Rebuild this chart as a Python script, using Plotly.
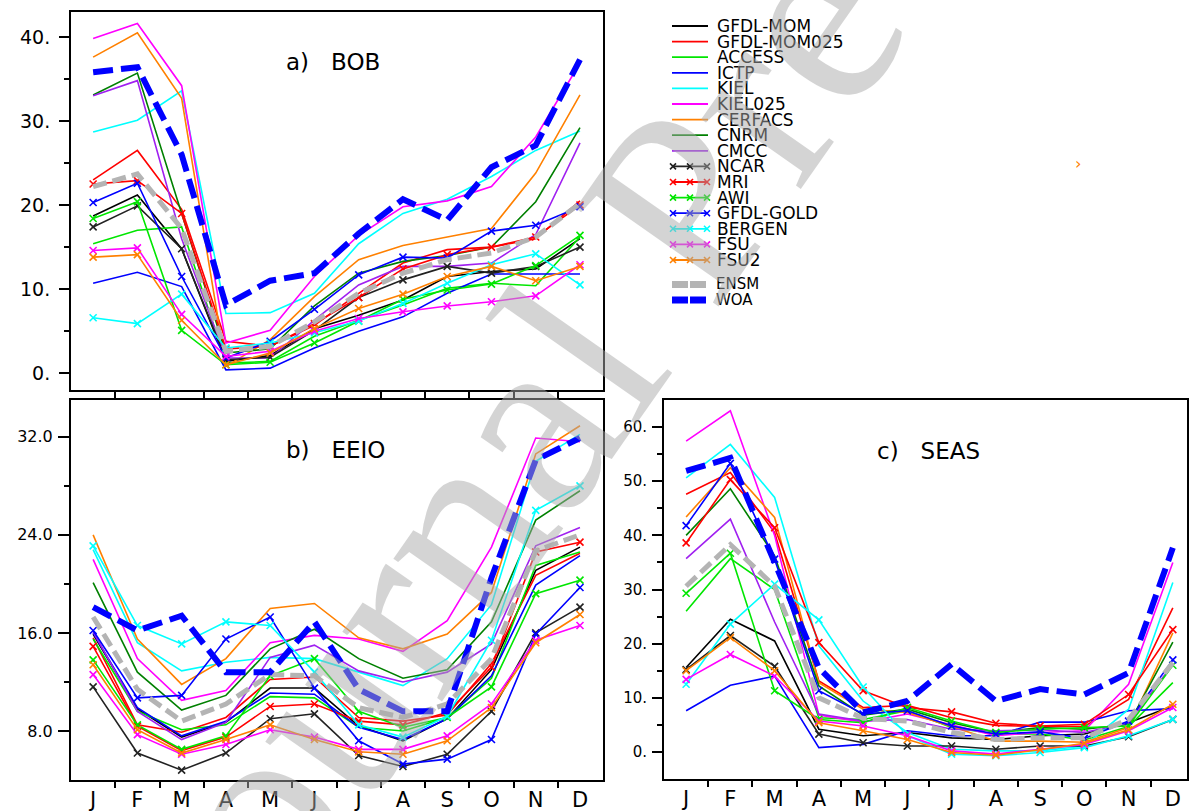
import plotly.graph_objects as go

W, H = 1196, 811

months = ["J", "F", "M", "A", "M", "J", "J", "A", "S", "O", "N", "D"]

model_names = ["GFDL-MOM", "GFDL-MOM025", "ACCESS", "ICTP", "KIEL", "KIEL025", "CERFACS",
               "CNRM", "CMCC", "NCAR", "MRI", "AWI", "GFDL-GOLD", "BERGEN", "FSU", "FSU2"]

# ---------------- a) BOB ----------------
bob_gfdl_mom = [18.7, 21.2, 14.8, 1.4, 2.1, 5.3, 6.9, 8.7, 11.5, 12.1, 12.4, 16.0]
bob_gfdl_mom025 = [23.0, 26.5, 19.5, 3.8, 3.2, 5.7, 9.5, 13.1, 14.7, 15.0, 16.0, 20.5]
bob_access = [15.4, 17.0, 17.4, 1.2, 1.4, 4.4, 6.3, 8.1, 10.1, 10.7, 10.4, 16.2]
bob_ictp = [10.7, 12.0, 10.3, 0.4, 0.6, 3.0, 5.0, 6.7, 9.5, 11.8, 11.8, 11.8]
bob_kiel = [28.7, 30.1, 33.6, 7.1, 7.2, 9.5, 15.4, 19.0, 20.7, 23.4, 26.5, 28.8]
bob_kiel025 = [39.8, 41.6, 34.2, 3.6, 5.1, 11.5, 16.4, 19.8, 20.5, 22.2, 28.1, 36.9]
bob_cerfacs = [37.6, 40.5, 32.7, 0.8, 4.0, 9.1, 13.5, 15.2, 16.2, 17.2, 23.8, 33.1]
bob_cnrm = [33.1, 35.7, 19.0, 2.4, 2.9, 8.0, 11.9, 13.3, 14.0, 15.0, 20.4, 29.2]
bob_cmcc = [33.0, 34.8, 16.0, 1.8, 1.8, 6.3, 10.5, 12.7, 12.7, 13.1, 16.5, 27.4]
bob_ncar = [17.4, 19.9, 14.8, 1.6, 1.9, 5.1, 9.0, 11.1, 12.7, 11.9, 12.7, 15.0]
bob_mri = [22.5, 22.9, 19.0, 2.9, 3.2, 5.9, 9.0, 12.4, 14.1, 15.0, 16.2, 20.0]
bob_awi = [18.4, 20.4, 5.1, 1.0, 1.3, 3.6, 6.2, 8.8, 9.9, 10.6, 12.8, 16.4]
bob_gfdl_gold = [20.3, 22.6, 11.5, 1.8, 3.8, 7.6, 11.7, 13.8, 13.7, 16.9, 17.6, 19.8]
bob_bergen = [6.6, 5.9, 9.4, 3.0, 3.6, 4.8, 6.2, 8.3, 10.7, 12.9, 14.2, 10.5]
bob_fsu = [14.6, 14.9, 7.0, 2.0, 2.6, 5.0, 6.5, 7.3, 8.0, 8.5, 9.2, 12.9]
bob_fsu2 = [13.8, 14.1, 6.3, 1.0, 2.4, 5.3, 7.7, 9.4, 11.5, 12.7, 11.0, 12.7]
bob_ensm = [22.2, 23.7, 17.2, 2.6, 3.2, 6.1, 9.5, 11.9, 13.5, 14.3, 16.2, 20.2]
bob_woa = [35.8, 36.4, 26.0, 8.1, 11.0, 11.9, 16.6, 20.7, 18.2, 24.5, 27.1, 37.3]

# ---------------- b) EEIO ----------------
eeio_gfdl_mom = [15.9, 9.8, 7.5, 8.7, 11.5, 11.5, 8.4, 7.2, 9.0, 13.0, 21.1, 23.0]
eeio_gfdl_mom025 = [15.6, 8.5, 7.9, 9.1, 12.2, 12.4, 9.1, 8.8, 9.3, 13.5, 20.7, 22.5]
eeio_access = [15.5, 9.6, 8.1, 8.5, 10.8, 10.7, 8.3, 8.0, 9.1, 12.3, 21.5, 22.6]
eeio_ictp = [16.0, 9.9, 7.6, 8.8, 11.1, 11.0, 8.3, 7.3, 9.0, 12.5, 19.9, 22.3]
eeio_kiel = [22.8, 15.2, 12.9, 13.6, 14.0, 13.9, 12.8, 11.7, 13.9, 18.3, 30.0, 32.2]
eeio_kiel025 = [22.0, 13.9, 10.5, 11.3, 15.2, 15.8, 15.5, 14.5, 17.0, 23.0, 31.9, 31.6]
eeio_cerfacs = [24.0, 15.5, 11.8, 13.9, 18.0, 18.4, 15.6, 14.7, 15.9, 19.3, 30.6, 32.9]
eeio_cnrm = [20.1, 12.8, 9.7, 10.9, 14.7, 16.3, 13.9, 12.3, 13.0, 16.9, 25.2, 27.6]
eeio_cmcc = [16.1, 9.6, 7.3, 8.7, 14.0, 15.0, 12.9, 12.0, 12.8, 15.1, 23.1, 24.6]
eeio_ncar = [11.6, 6.2, 4.8, 6.2, 9.0, 9.4, 6.0, 5.1, 6.1, 9.6, 16.0, 18.1]
eeio_mri = [14.9, 8.4, 6.4, 7.5, 10.0, 10.2, 8.8, 8.5, 9.5, 13.2, 22.6, 23.4]
eeio_awi = [13.8, 8.5, 6.5, 7.6, 12.5, 13.9, 9.6, 8.3, 9.1, 11.6, 19.2, 20.3]
eeio_gfdl_gold = [16.2, 10.7, 10.9, 15.5, 17.3, 11.5, 7.2, 5.3, 5.7, 7.3, 15.9, 19.7]
eeio_bergen = [23.1, 16.6, 15.1, 16.9, 16.6, 12.8, 8.5, 7.5, 9.2, 15.4, 26.0, 28.0]
eeio_fsu = [12.6, 7.7, 6.1, 6.9, 8.1, 7.5, 6.5, 6.5, 7.6, 10.2, 15.4, 16.6]
eeio_fsu2 = [13.4, 8.1, 6.2, 7.3, 8.5, 7.3, 6.3, 6.1, 7.2, 9.9, 15.2, 17.5]
eeio_ensm = [17.3, 11.4, 8.8, 10.2, 12.6, 12.5, 9.9, 9.1, 10.2, 13.9, 22.7, 24.0]
eeio_woa = [18.1, 16.2, 17.4, 12.8, 12.8, 16.9, 11.4, 9.6, 9.6, 20.5, 30.1, 31.9]

# ---------------- c) SEAS ----------------
seas_gfdl_mom = [15.6, 24.5, 20.5, 4.2, 3.0, 3.6, 2.6, 2.3, 3.0, 3.3, 5.4, 8.5]
seas_gfdl_mom025 = [47.6, 51.6, 40.5, 13.1, 8.2, 8.6, 6.3, 4.9, 4.7, 4.7, 9.7, 26.6]
seas_access = [26.0, 35.7, 30.0, 6.3, 6.0, 7.6, 4.5, 3.3, 3.3, 2.2, 4.7, 12.8]
seas_ictp = [7.6, 12.3, 14.0, 0.8, 1.4, 3.9, 3.0, 3.0, 5.5, 5.5, 7.6, 8.0]
seas_kiel = [50.6, 56.8, 47.0, 19.6, 9.4, 3.6, 0.5, 0.2, 0.2, 1.1, 7.9, 31.3]
seas_kiel025 = [57.4, 63.0, 40.0, 6.8, 5.5, 7.0, 5.0, 3.0, 3.6, 3.9, 12.5, 35.0]
seas_cerfacs = [43.4, 52.5, 43.3, 12.8, 7.9, 7.3, 4.7, 2.0, 2.0, 1.8, 4.5, 22.0]
seas_cnrm = [40.0, 48.6, 36.2, 12.2, 6.8, 7.9, 5.4, 3.6, 4.5, 4.2, 5.1, 20.3]
seas_cmcc = [35.7, 43.0, 24.0, 7.0, 5.7, 6.0, 4.2, 3.9, 4.1, 3.6, 5.4, 16.2]
seas_ncar = [15.2, 21.5, 15.8, 3.3, 1.7, 1.1, 1.1, 0.5, 1.1, 1.1, 2.8, 6.0]
seas_mri = [38.6, 50.3, 41.4, 20.2, 11.3, 8.2, 7.4, 5.3, 4.8, 5.1, 10.6, 22.6]
seas_awi = [29.3, 36.7, 11.3, 6.0, 5.4, 8.2, 5.7, 3.6, 4.2, 4.5, 4.8, 16.0]
seas_gfdl_gold = [41.8, 53.3, 35.6, 11.3, 7.0, 7.6, 4.8, 3.3, 3.7, 2.5, 5.7, 17.0]
seas_bergen = [12.5, 23.6, 31.0, 24.4, 12.0, 3.0, -0.4, -0.7, -0.1, 0.8, 3.0, 6.0]
seas_fsu = [13.4, 18.0, 14.0, 5.7, 4.8, 3.0, 0.2, -0.4, 0.5, 1.4, 3.9, 8.2]
seas_fsu2 = [15.0, 21.1, 15.0, 5.4, 3.9, 2.3, -0.1, -0.6, 0.4, 1.6, 4.1, 8.8]
seas_ensm = [30.6, 38.3, 30.6, 10.0, 6.2, 5.7, 3.6, 2.3, 2.6, 2.6, 6.0, 16.5]
seas_woa = [51.9, 54.3, 35.0, 15.5, 7.3, 9.4, 16.2, 9.4, 11.6, 10.6, 14.6, 37.7]

# ---------------- styles ----------------
model_colors = ["#000000", "#ff0000", "#00e600", "#0000ff", "#00ffff", "#ff00ff", "#ff8000",
                "#008000", "#a020f0", "#222222", "#ff0000", "#00e600", "#0000ff", "#00ffff",
                "#ff00ff", "#ff8000"]
model_markers = [False] * 9 + [True] * 7
ENSM_COLOR = "#b4b4b4"
WOA_COLOR = "#0000ff"
FONT = "DejaVu Sans"

panels = [
    ("x", "y", [bob_gfdl_mom, bob_gfdl_mom025, bob_access, bob_ictp, bob_kiel, bob_kiel025,
                bob_cerfacs, bob_cnrm, bob_cmcc, bob_ncar, bob_mri, bob_awi, bob_gfdl_gold,
                bob_bergen, bob_fsu, bob_fsu2], bob_ensm, bob_woa),
    ("x2", "y2", [eeio_gfdl_mom, eeio_gfdl_mom025, eeio_access, eeio_ictp, eeio_kiel, eeio_kiel025,
                  eeio_cerfacs, eeio_cnrm, eeio_cmcc, eeio_ncar, eeio_mri, eeio_awi, eeio_gfdl_gold,
                  eeio_bergen, eeio_fsu, eeio_fsu2], eeio_ensm, eeio_woa),
    ("x3", "y3", [seas_gfdl_mom, seas_gfdl_mom025, seas_access, seas_ictp, seas_kiel, seas_kiel025,
                  seas_cerfacs, seas_cnrm, seas_cmcc, seas_ncar, seas_mri, seas_awi, seas_gfdl_gold,
                  seas_bergen, seas_fsu, seas_fsu2], seas_ensm, seas_woa),
]

xs = list(range(len(months)))
fig = go.Figure()

for xa, ya, series, ensm, woa in panels:
    for name, vals, col, mk in zip(model_names, series, model_colors, model_markers):
        fig.add_trace(go.Scatter(
            x=xs, y=vals, xaxis=xa, yaxis=ya, name=name, showlegend=False,
            mode="lines+markers" if mk else "lines",
            line=dict(color=col, width=1.6),
            marker=dict(symbol="x-thin", size=7, line=dict(color=col, width=1.6)),
        ))
    fig.add_trace(go.Scatter(x=xs, y=ensm, xaxis=xa, yaxis=ya, name="ENSM", showlegend=False,
                             mode="lines", line=dict(color=ENSM_COLOR, width=5, dash="14px,6px")))
    fig.add_trace(go.Scatter(x=xs, y=woa, xaxis=xa, yaxis=ya, name="WOA", showlegend=False,
                             mode="lines", line=dict(color=WOA_COLOR, width=6, dash="20px,8px")))


def px(p):
    return p / W


def py(p):
    return 1 - p / H


common_x = dict(showline=True, linecolor="black", linewidth=2, mirror=True, showgrid=False,
                zeroline=False, tickvals=xs, ticktext=months, ticks="",
                tickfont=dict(family=FONT, size=21, color="black"),
                minor=dict(tickvals=[i + 0.5 for i in xs[:-1]], ticks="outside", ticklen=6,
                           tickwidth=2, tickcolor="black", showgrid=False))
common_y = dict(showline=True, linecolor="black", linewidth=2, mirror=True, showgrid=False,
                zeroline=False, ticks="outside", tickwidth=2, tickcolor="black")

fig.update_layout(
    width=W, height=H, margin=dict(l=0, r=0, t=0, b=0),
    paper_bgcolor="white", plot_bgcolor="white", showlegend=False,
    xaxis=dict(common_x, domain=[px(71), px(603)], range=[-0.5, 11.52], anchor="y",
               showticklabels=False),
    yaxis=dict(common_y, domain=[py(390), py(11.7)], range=[-2, 43], anchor="x",
               tickvals=[0, 10, 20, 30, 40], ticktext=["0.", "10.", "20.", "30.", "40."],
               ticklen=10, ticklabelstandoff=5,
               tickfont=dict(family=FONT, size=19, color="black"),
               minor=dict(tickvals=[5, 15, 25, 35], ticks="outside", ticklen=5, tickwidth=2,
                          tickcolor="black", showgrid=False)),
    xaxis2=dict(common_x, domain=[px(71), px(603)], range=[-0.5, 11.52], anchor="y2"),
    yaxis2=dict(common_y, domain=[py(780), py(400)], range=[4, 35], anchor="x2",
                tickvals=[8, 16, 24, 32], ticktext=["8.0", "16.0", "24.0", "32.0"],
                ticklen=11, ticklabelstandoff=2,
                tickfont=dict(family=FONT, size=16, color="black"),
                minor=dict(tickvals=[12, 20, 28], ticks="outside", ticklen=5, tickwidth=2,
                           tickcolor="black", showgrid=False)),
    xaxis3=dict(common_x, domain=[px(664), px(1187)], range=[-0.5, 11.32], anchor="y3"),
    yaxis3=dict(common_y, domain=[py(779), py(400)], range=[-5, 65], anchor="x3",
                tickvals=[0, 10, 20, 30, 40, 50, 60],
                ticktext=["0.", "10.", "20.", "30.", "40.", "50.", "60."],
                ticklen=10, ticklabelstandoff=2,
                tickfont=dict(family=FONT, size=15, color="black"),
                minor=dict(tickvals=[5, 15, 25, 35, 45, 55], ticks="outside", ticklen=5,
                           tickwidth=2, tickcolor="black", showgrid=False)),
)

annotations = []
shapes = []

# panel titles
SP = "\u00a0\u00a0\u00a0"
for txt, cx, cy in [("a)" + SP + "BOB", 333, 62), ("b)" + SP + "EEIO", 335, 450),
                    ("c)" + SP + "SEAS", 928, 451)]:
    annotations.append(dict(x=px(cx), y=py(cy), xref="paper", yref="paper", text=txt,
                            showarrow=False, xanchor="center", yanchor="middle",
                            font=dict(family=FONT, size=23, color="black")))

# manual legend (sample lines as shapes, names as one multi-line text block)
leg_y = [26 + 15.6 * i for i in range(len(model_names))]
for name, col, mk, yy in zip(model_names, model_colors, model_markers, leg_y):
    shapes.append(dict(type="line", xref="paper", yref="paper", x0=px(672), x1=px(708),
                       y0=py(yy), y1=py(yy), line=dict(color=col, width=1.8)))
    if mk:
        for xx in (673, 690, 707):
            shapes.append(dict(type="path", xref="paper", yref="paper",
                               path=f"M {px(xx-3)} {py(yy-3)} L {px(xx+3)} {py(yy+3)} "
                                    f"M {px(xx-3)} {py(yy+3)} L {px(xx+3)} {py(yy-3)}",
                               line=dict(color=col, width=1.6)))
legend_text = "<br>".join(f'<span style="font-size:17px">{n}</span>' for n in model_names)
annotations.append(dict(x=px(715), y=py((leg_y[0] + leg_y[-1]) / 2), xref="paper", yref="paper",
                        text=legend_text, showarrow=False, xanchor="left", yanchor="middle",
                        align="left", font=dict(family=FONT, size=12, color="black")))

extra_names = ["ENSM", "WOA"]
extra_colors = [ENSM_COLOR, WOA_COLOR]
extra_y = [284.5, 300]
for col, yy in zip(extra_colors, extra_y):
    shapes.append(dict(type="line", xref="paper", yref="paper", x0=px(672), x1=px(706),
                       y0=py(yy), y1=py(yy), line=dict(color=col, width=7, dash="16px,2px")))
annotations.append(dict(x=px(714), y=py(sum(extra_y) / 2), xref="paper", yref="paper",
                        text="<br>".join(f'<span style="font-size:15px">{n}</span>'
                                         for n in extra_names),
                        showarrow=False, xanchor="left", yanchor="middle", align="left",
                        font=dict(family=FONT, size=12, color="black")))

# stray orange mark
annotations.append(dict(x=px(1083), y=py(152), xref="paper", yref="paper", text="\u203a",
                        showarrow=False, font=dict(family=FONT, size=16, color="#ff8000")))

# watermark
annotations.append(dict(x=px(690), y=py(192), xref="paper", yref="paper",
                        text="Journal Pre-proof", showarrow=False, textangle=-55,
                        xanchor="center", yanchor="middle",
                        font=dict(family="Liberation Serif", size=265,
                                  color="rgba(170,170,170,0.5)")))

fig.update_layout(annotations=annotations, shapes=shapes)
fig.write_html("out.html")
